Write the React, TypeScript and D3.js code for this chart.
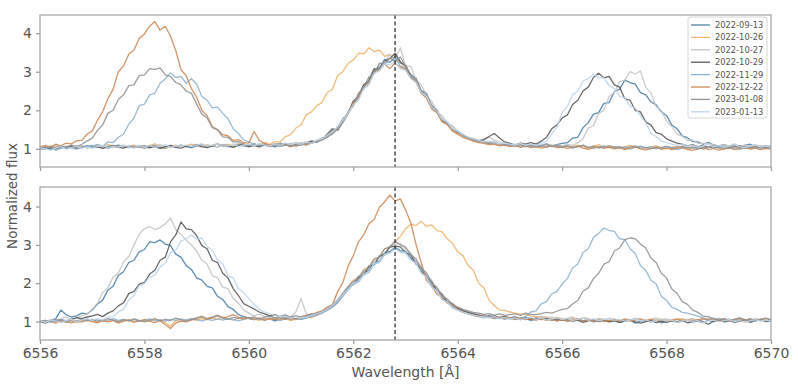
import React, { useRef, useEffect } from 'react';
import * as d3 from 'd3';

// spectra sampled on a 0.1 Å grid from 6556 to 6570 (141 points)
const waveStart = 6556;
const waveStep = 0.1;
const restWave = 6562.8;

const dates = ['2022-09-13', '2022-10-26', '2022-10-27', '2022-10-29', '2022-11-29', '2022-12-22', '2023-01-08', '2023-01-13'];
const colors = ['#4a82a8', '#f0b46c', '#c4c4c4', '#5a5a5a', '#8db4d2', '#cf8a58', '#949494', '#bfd5ea'];

const xTicks = [6556, 6558, 6560, 6562, 6564, 6566, 6568, 6570];
const yTicks = [1, 2, 3, 4];

// upper panel
const up0913 = [
  1.02, 1.05, 0.99, 1.03, 1.07, 1.01, 1.04, 1.08, 1.03, 1.06,
  1.09, 1.04, 1.07, 1.02, 1.05, 1.10, 1.06, 1.03, 1.08, 1.05,
  1.02, 1.06, 1.09, 1.04, 1.01, 1.07, 1.05, 1.10, 1.06, 1.03,
  1.08, 1.12, 1.06, 1.09, 1.13, 1.07, 1.10, 1.05, 1.11, 1.08,
  1.06, 1.10, 1.07, 1.12, 1.08, 1.05, 1.11, 1.14, 1.09, 1.12,
  1.15, 1.10, 1.20, 1.17, 1.28, 1.30, 1.47, 1.55, 1.78, 1.92,
  2.22, 2.38, 2.66, 2.80, 3.08, 3.05, 3.32, 3.24, 3.40, 3.22,
  3.18, 2.90, 2.84, 2.50, 2.42, 2.08, 2.02, 1.72, 1.68, 1.49,
  1.46, 1.35, 1.30, 1.24, 1.18, 1.20, 1.14, 1.16, 1.12, 1.09,
  1.11, 1.08, 1.12, 1.07, 1.10, 1.06, 1.09, 1.13, 1.08, 1.11,
  1.14, 1.16, 1.28, 1.30, 1.55, 1.68, 1.90, 1.94, 2.18, 2.20,
  2.48, 2.55, 2.78, 2.72, 2.68, 2.46, 2.40, 2.22, 2.14, 1.96,
  1.86, 1.62, 1.52, 1.34, 1.29, 1.19, 1.18, 1.12, 1.17, 1.10,
  1.08, 1.11, 1.06, 1.10, 1.05, 1.09, 1.12, 1.06, 1.04, 1.08,
  1.05,
];
const up1026 = [
  1.06, 1.03, 1.08, 1.05, 1.01, 1.06, 1.09, 1.04, 1.07, 1.02,
  1.05, 1.09, 1.04, 1.12, 1.07, 1.03, 1.08, 1.05, 1.10, 1.06,
  1.04, 1.09, 1.13, 1.07, 1.02, 1.06, 1.10, 1.05, 1.08, 1.12,
  1.09, 1.05, 1.11, 1.07, 1.13, 1.08, 1.12, 1.06, 1.10, 1.14,
  1.08, 1.13, 1.09, 1.17, 1.12, 1.19, 1.18, 1.32, 1.37, 1.54,
  1.62, 1.88, 1.96, 2.12, 2.20, 2.46, 2.54, 2.90, 3.00, 3.22,
  3.30, 3.48, 3.46, 3.62, 3.52, 3.56, 3.40, 3.45, 3.28, 3.26,
  3.08, 2.84, 2.74, 2.46, 2.34, 2.06, 1.95, 1.74, 1.65, 1.48,
  1.42, 1.34, 1.27, 1.22, 1.18, 1.15, 1.17, 1.12, 1.10, 1.13,
  1.09, 1.07, 1.11, 1.06, 1.09, 1.05, 1.08, 1.04, 1.10, 1.06,
  1.03, 1.08, 1.05, 1.10, 1.06, 1.02, 1.07, 1.11, 1.04, 1.08,
  1.05, 1.01, 1.06, 1.09, 1.03, 1.07, 1.02, 1.05, 1.08, 1.03,
  1.00, 1.04, 1.07, 1.02, 0.98, 1.03, 1.06, 1.01, 1.04, 1.07,
  1.03, 0.99, 1.05, 1.02, 1.06, 1.01, 1.04, 1.08, 1.03, 1.06,
  1.04,
];
const up1027 = [
  1.08, 1.03, 1.06, 1.10, 1.04, 1.07, 1.02, 1.05, 1.09, 1.04,
  1.07, 1.11, 1.05, 1.08, 1.03, 1.06, 1.10, 1.04, 1.07, 1.09,
  1.05, 1.02, 1.08, 1.11, 1.06, 1.03, 1.07, 1.10, 1.05, 1.08,
  1.12, 1.07, 1.04, 1.09, 1.13, 1.08, 1.05, 1.10, 1.14, 1.09,
  1.11, 1.07, 1.13, 1.09, 1.06, 1.12, 1.15, 1.10, 1.13, 1.17,
  1.14, 1.19, 1.16, 1.22, 1.28, 1.32, 1.45, 1.55, 1.76, 1.96,
  2.10, 2.44, 2.52, 2.86, 2.98, 3.18, 3.26, 3.45, 3.30, 3.62,
  3.15, 3.14, 2.80, 2.66, 2.38, 2.24, 1.96, 1.86, 1.66, 1.60,
  1.45, 1.38, 1.30, 1.27, 1.22, 1.25, 1.30, 1.22, 1.18, 1.15,
  1.13, 1.09, 1.12, 1.08, 1.11, 1.14, 1.09, 1.12, 1.07, 1.10,
  1.08, 1.12, 1.09, 1.16, 1.26, 1.54, 1.60, 1.92, 2.00, 2.36,
  2.46, 2.74, 2.78, 3.00, 2.94, 3.02, 2.60, 2.45, 2.10, 1.99,
  1.72, 1.58, 1.38, 1.33, 1.22, 1.23, 1.14, 1.15, 1.13, 1.11,
  1.07, 1.11, 1.08, 1.13, 1.06, 1.10, 1.07, 1.11, 1.05, 1.09,
  1.07,
];
const up1029 = [
  1.00, 1.04, 1.02, 0.98, 1.05, 1.03, 1.07, 1.01, 1.04, 1.08,
  1.03, 1.06, 1.01, 1.05, 1.09, 1.04, 1.02, 1.07, 1.03, 1.06,
  1.08, 1.03, 1.05, 1.01, 1.06, 1.09, 1.04, 1.02, 1.07, 1.05,
  1.10, 1.06, 1.03, 1.08, 1.05, 1.11, 1.07, 1.04, 1.09, 1.12,
  1.06, 1.09, 1.05, 1.10, 1.07, 1.13, 1.08, 1.11, 1.06, 1.12,
  1.10, 1.15, 1.20, 1.18, 1.24, 1.38, 1.52, 1.48, 1.70, 1.92,
  2.24, 2.34, 2.66, 2.74, 3.05, 3.10, 3.28, 3.34, 3.48, 3.26,
  3.15, 2.86, 2.78, 2.48, 2.34, 2.10, 1.96, 1.76, 1.65, 1.52,
  1.42, 1.36, 1.28, 1.25, 1.20, 1.24, 1.32, 1.40, 1.28, 1.18,
  1.14, 1.10, 1.15, 1.12, 1.16, 1.12, 1.20, 1.30, 1.52, 1.62,
  1.80, 1.88, 2.15, 2.26, 2.50, 2.60, 2.85, 2.96, 2.84, 2.88,
  2.66, 2.60, 2.30, 2.26, 2.00, 1.96, 1.70, 1.62, 1.42, 1.38,
  1.26, 1.20, 1.15, 1.12, 1.08, 1.11, 1.06, 1.09, 1.04, 1.07,
  1.03, 1.06, 1.01, 1.05, 1.08, 1.02, 1.06, 1.03, 1.07, 1.04,
  1.06,
];
const up1129 = [
  0.98, 1.02, 1.05, 0.97, 1.01, 1.06, 1.03, 0.99, 1.04, 1.08,
  1.05, 1.12, 1.07, 1.18, 1.16, 1.30, 1.38, 1.64, 1.80, 2.12,
  2.16, 2.40, 2.44, 2.70, 2.82, 2.97, 2.85, 2.88, 2.70, 2.82,
  2.68, 2.36, 2.26, 2.06, 2.08, 1.92, 1.78, 1.52, 1.40, 1.23,
  1.18, 1.12, 1.09, 1.13, 1.08, 1.11, 1.06, 1.10, 1.13, 1.08,
  1.12, 1.10, 1.15, 1.19, 1.22, 1.30, 1.38, 1.52, 1.68, 1.90,
  2.16, 2.30, 2.60, 2.68, 3.00, 3.06, 3.26, 3.24, 3.35, 3.15,
  3.08, 2.86, 2.76, 2.48, 2.36, 2.14, 2.00, 1.76, 1.70, 1.52,
  1.44, 1.36, 1.29, 1.22, 1.20, 1.16, 1.14, 1.18, 1.12, 1.10,
  1.08, 1.12, 1.06, 1.09, 1.05, 1.10, 1.07, 1.04, 1.09, 1.06,
  1.03, 1.07, 1.02, 1.06, 1.09, 1.04, 1.01, 1.05, 1.08, 1.03,
  1.06, 1.02, 1.05, 0.99, 1.04, 1.07, 1.02, 1.06, 1.00, 1.04,
  1.07, 1.03, 0.98, 1.02, 1.05, 1.01, 1.04, 0.99, 1.03, 1.06,
  1.02, 1.05, 1.01, 1.04, 0.98, 1.03, 1.07, 1.02, 1.05, 1.01,
  1.03,
];
const up1222 = [
  1.05, 1.09, 1.04, 1.12, 1.08, 1.15, 1.13, 1.21, 1.22, 1.38,
  1.46, 1.74, 1.96, 2.30, 2.55, 3.00, 3.15, 3.45, 3.56, 3.86,
  3.98, 4.18, 4.30, 4.08, 4.18, 3.92, 3.55, 3.05, 2.90, 2.56,
  2.34, 2.00, 1.86, 1.58, 1.50, 1.37, 1.34, 1.22, 1.24, 1.16,
  1.15, 1.45, 1.22, 1.14, 1.10, 1.12, 1.08, 1.11, 1.07, 1.10,
  1.13, 1.11, 1.16, 1.20, 1.24, 1.32, 1.40, 1.55, 1.70, 1.92,
  2.20, 2.34, 2.62, 2.72, 3.00, 3.04, 3.20, 3.08, 3.22, 3.12,
  3.06, 2.84, 2.74, 2.44, 2.32, 2.04, 1.94, 1.70, 1.63, 1.46,
  1.38, 1.30, 1.25, 1.20, 1.16, 1.14, 1.11, 1.12, 1.08, 1.10,
  1.06, 1.09, 1.04, 1.07, 1.03, 1.06, 1.02, 1.05, 1.08, 1.03,
  1.05, 1.01, 1.04, 1.07, 1.02, 0.99, 1.03, 1.06, 1.01, 1.04,
  1.00, 1.03, 0.98, 1.02, 1.05, 1.00, 0.97, 1.01, 1.04, 0.99,
  1.02, 0.98, 1.01, 1.04, 0.99, 0.96, 1.00, 1.03, 0.98, 1.01,
  0.97, 1.00, 1.03, 0.98, 1.01, 1.04, 0.99, 1.02, 0.98, 1.01,
  1.00,
];
const up0108 = [
  1.03, 0.99, 1.06, 1.02, 1.08, 1.04, 1.10, 1.06, 1.12, 1.20,
  1.28, 1.48, 1.62, 1.92, 2.00, 2.28, 2.40, 2.64, 2.66, 2.90,
  2.92, 3.08, 3.06, 3.10, 2.92, 2.88, 2.72, 2.66, 2.50, 2.44,
  2.16, 1.90, 1.80, 1.55, 1.49, 1.31, 1.30, 1.18, 1.19, 1.10,
  1.09, 1.13, 1.08, 1.11, 1.06, 1.10, 1.14, 1.09, 1.12, 1.07,
  1.11, 1.16, 1.14, 1.20, 1.26, 1.30, 1.42, 1.56, 1.72, 1.94,
  2.12, 2.44, 2.58, 2.86, 2.94, 3.22, 3.20, 3.36, 3.25, 3.38,
  3.14, 2.94, 2.80, 2.52, 2.44, 2.12, 1.99, 1.75, 1.68, 1.50,
  1.45, 1.34, 1.28, 1.24, 1.21, 1.18, 1.14, 1.16, 1.11, 1.13,
  1.10, 1.07, 1.11, 1.06, 1.09, 1.05, 1.08, 1.11, 1.06, 1.09,
  1.05, 1.08, 1.03, 1.06, 1.10, 1.04, 1.07, 1.02, 1.05, 1.08,
  1.03, 1.06, 1.01, 1.05, 1.08, 1.02, 1.04, 1.00, 1.05, 1.02,
  1.06, 1.01, 1.04, 1.07, 1.02, 1.05, 1.00, 1.03, 1.06, 1.02,
  1.05, 1.01, 1.04, 1.08, 1.03, 1.06, 1.02, 1.05, 1.01, 1.04,
  1.02,
];
const up0113 = [
  1.04, 1.00, 0.96, 1.02, 1.06, 0.99, 1.03, 1.07, 1.01, 1.05,
  1.02, 1.06, 1.09, 1.03, 1.07, 1.04, 1.10, 1.06, 1.02, 1.08,
  1.05, 1.09, 1.03, 1.07, 1.11, 1.04, 1.08, 1.05, 1.10, 1.06,
  1.09, 1.13, 1.07, 1.10, 1.05, 1.11, 1.08, 1.13, 1.06, 1.10,
  1.12, 1.08, 1.14, 1.10, 1.07, 1.13, 1.09, 1.15, 1.11, 1.14,
  1.12, 1.17, 1.15, 1.22, 1.26, 1.35, 1.44, 1.58, 1.74, 1.92,
  2.14, 2.26, 2.56, 2.66, 2.96, 3.02, 3.20, 3.18, 3.24, 3.08,
  3.04, 2.82, 2.72, 2.46, 2.36, 2.08, 1.98, 1.77, 1.69, 1.52,
  1.46, 1.37, 1.30, 1.26, 1.22, 1.18, 1.21, 1.16, 1.13, 1.15,
  1.12, 1.10, 1.14, 1.10, 1.13, 1.09, 1.14, 1.20, 1.38, 1.56,
  1.94, 2.10, 2.40, 2.50, 2.76, 2.82, 2.93, 2.84, 2.84, 2.64,
  2.56, 2.36, 2.32, 2.10, 2.06, 1.86, 1.68, 1.40, 1.32, 1.20,
  1.16, 1.12, 1.09, 1.13, 1.07, 1.10, 1.05, 1.08, 1.12, 1.06,
  1.09, 1.04, 1.08, 1.11, 1.06, 1.03, 1.07, 1.10, 1.05, 1.08,
  1.04,
];

// lower panel
const lo0913 = [
  1.00, 0.96, 1.03, 1.07, 1.30, 1.18, 1.12, 1.15, 1.22, 1.20,
  1.30, 1.46, 1.56, 1.82, 1.92, 2.20, 2.30, 2.54, 2.60, 2.82,
  2.88, 3.08, 3.06, 3.13, 3.02, 2.98, 2.76, 2.68, 2.46, 2.36,
  2.14, 2.08, 1.92, 1.88, 1.66, 1.58, 1.39, 1.32, 1.18, 1.13,
  1.08, 1.05, 1.09, 1.04, 1.07, 1.02, 1.06, 1.10, 1.04, 1.08,
  1.06, 1.10, 1.14, 1.18, 1.24, 1.32, 1.40, 1.52, 1.70, 1.86,
  2.03, 2.07, 2.26, 2.34, 2.54, 2.58, 2.79, 2.83, 2.94, 2.85,
  2.83, 2.66, 2.56, 2.31, 2.20, 1.94, 1.84, 1.61, 1.53, 1.38,
  1.32, 1.26, 1.22, 1.18, 1.15, 1.12, 1.16, 1.10, 1.08, 1.11,
  1.07, 1.10, 1.05, 1.08, 1.03, 1.06, 1.09, 1.04, 1.07, 1.02,
  1.05, 1.01, 1.04, 1.07, 1.02, 1.05, 0.99, 1.03, 1.06, 1.01,
  1.04, 0.98, 1.02, 1.05, 0.96, 1.01, 1.03, 0.99, 1.04, 0.97,
  1.00, 1.03, 0.98, 1.02, 1.05, 0.99, 1.01, 0.97, 1.03, 1.00,
  1.04, 0.99, 1.02, 1.06, 1.01, 1.04, 0.98, 1.03, 1.05, 1.00,
  1.02,
];
const lo1026 = [
  0.98, 1.02, 1.00, 1.04, 0.99, 1.03, 1.01, 0.97, 1.02, 1.05,
  1.01, 0.98, 1.03, 1.00, 1.04, 0.99, 1.02, 1.05, 1.00, 1.03,
  0.99, 1.02, 1.06, 1.01, 0.97, 0.88, 1.03, 1.00, 1.04, 1.07,
  1.03, 1.08, 1.05, 1.10, 1.06, 1.12, 1.08, 1.04, 1.09, 1.06,
  1.10, 1.07, 1.03, 1.08, 1.05, 1.09, 1.04, 1.07, 1.03, 1.06,
  1.08, 1.12, 1.10, 1.16, 1.22, 1.30, 1.42, 1.56, 1.74, 1.92,
  2.08, 2.15, 2.36, 2.42, 2.64, 2.68, 2.90, 2.92, 3.08, 3.22,
  3.42, 3.54, 3.50, 3.62, 3.48, 3.52, 3.38, 3.34, 3.16, 3.04,
  2.82, 2.72, 2.46, 2.34, 2.00, 1.88, 1.56, 1.42, 1.30, 1.29,
  1.25, 1.22, 1.20, 1.18, 1.15, 1.13, 1.10, 1.12, 1.08, 1.11,
  1.08, 1.05, 1.09, 1.06, 1.10, 1.07, 1.04, 1.08, 1.05, 1.02,
  1.06, 1.03, 1.07, 1.04, 1.08, 1.05, 1.02, 1.06, 1.03, 1.07,
  1.04, 1.01, 1.05, 1.08, 1.03, 1.06, 1.02, 1.05, 1.08, 1.04,
  1.01, 1.05, 1.02, 1.06, 1.03, 0.99, 1.04, 1.07, 1.02, 1.05,
  1.03,
];
const lo1027 = [
  1.03, 0.99, 1.05, 1.02, 1.08, 1.12, 1.06, 1.10, 1.15, 1.20,
  1.32, 1.48, 1.76, 1.88, 2.16, 2.26, 2.55, 2.70, 3.00, 3.28,
  3.42, 3.48, 3.40, 3.45, 3.55, 3.70, 3.40, 3.28, 3.12, 3.00,
  2.84, 2.60, 2.50, 2.20, 2.14, 1.90, 1.86, 1.60, 1.48, 1.30,
  1.22, 1.15, 1.20, 1.12, 1.16, 1.10, 1.14, 1.18, 1.12, 1.25,
  1.60, 1.20, 1.16, 1.22, 1.28, 1.34, 1.45, 1.58, 1.74, 1.92,
  2.02, 2.19, 2.25, 2.46, 2.52, 2.72, 2.78, 2.98, 3.02, 3.04,
  2.88, 2.80, 2.56, 2.46, 2.21, 2.09, 1.84, 1.73, 1.53, 1.47,
  1.36, 1.30, 1.25, 1.22, 1.18, 1.16, 1.13, 1.15, 1.11, 1.14,
  1.10, 1.13, 1.08, 1.11, 1.07, 1.10, 1.14, 1.09, 1.12, 1.08,
  1.05, 1.09, 1.12, 1.06, 1.10, 1.07, 1.03, 1.08, 1.05, 1.09,
  1.06, 1.02, 1.07, 1.04, 1.09, 1.05, 1.02, 1.06, 1.10, 1.04,
  1.07, 1.03, 1.06, 1.02, 1.05, 1.08, 1.04, 1.07, 1.03, 1.06,
  1.09, 1.04, 1.07, 1.03, 1.10, 1.06, 1.02, 1.08, 1.05, 1.09,
  1.06,
];
const lo1029 = [
  1.01, 0.97, 1.03, 1.00, 1.05, 1.02, 1.06, 1.10, 1.08, 1.12,
  1.15, 1.19, 1.13, 1.22, 1.28, 1.41, 1.49, 1.73, 1.79, 1.98,
  2.02, 2.24, 2.34, 2.60, 2.68, 3.08, 3.26, 3.60, 3.42, 3.40,
  3.24, 2.98, 2.90, 2.60, 2.54, 2.26, 2.14, 1.86, 1.68, 1.47,
  1.40, 1.33, 1.25, 1.20, 1.15, 1.18, 1.12, 1.16, 1.10, 1.14,
  1.12, 1.15, 1.20, 1.18, 1.25, 1.30, 1.38, 1.50, 1.68, 1.88,
  1.97, 2.16, 2.22, 2.44, 2.48, 2.70, 2.76, 2.94, 2.97, 2.95,
  2.80, 2.74, 2.50, 2.40, 2.16, 2.04, 1.80, 1.71, 1.51, 1.46,
  1.35, 1.28, 1.24, 1.20, 1.17, 1.14, 1.12, 1.15, 1.10, 1.13,
  1.09, 1.12, 1.07, 1.10, 1.06, 1.09, 1.05, 1.08, 1.04, 1.07,
  1.03, 1.06, 1.01, 1.04, 0.98, 1.02, 1.05, 1.00, 1.03, 0.99,
  1.02, 0.98, 1.01, 1.04, 0.99, 0.96, 1.00, 1.03, 0.97, 1.01,
  0.98, 1.02, 0.99, 1.03, 0.97, 1.00, 1.04, 0.99, 0.93, 1.01,
  1.04, 1.00, 1.03, 0.98, 1.02, 1.05, 1.00, 1.03, 1.06, 1.01,
  1.04,
];
const lo1129 = [
  1.00, 1.03, 0.98, 1.02, 1.05, 1.01, 1.04, 0.99, 1.03, 1.06,
  1.02, 1.05, 1.01, 1.04, 1.08, 1.03, 1.06, 1.02, 1.05, 1.01,
  1.04, 1.07, 1.02, 1.05, 1.01, 1.06, 1.03, 1.07, 1.04, 1.08,
  1.05, 1.02, 1.06, 1.03, 1.07, 1.04, 1.08, 1.05, 1.02, 1.06,
  1.09, 1.05, 1.08, 1.04, 1.10, 1.06, 1.03, 1.07, 1.11, 1.05,
  1.08, 1.10, 1.13, 1.17, 1.22, 1.30, 1.38, 1.50, 1.66, 1.82,
  1.98, 2.03, 2.22, 2.28, 2.49, 2.55, 2.74, 2.79, 2.92, 2.83,
  2.81, 2.62, 2.54, 2.28, 2.18, 1.91, 1.82, 1.59, 1.51, 1.36,
  1.30, 1.24, 1.20, 1.16, 1.13, 1.10, 1.12, 1.08, 1.10, 1.06,
  1.09, 1.05, 1.10, 1.13, 1.25, 1.28, 1.46, 1.52, 1.72, 1.79,
  1.98, 2.12, 2.40, 2.50, 2.80, 2.90, 3.20, 3.30, 3.44, 3.38,
  3.35, 3.16, 3.14, 2.90, 2.78, 2.46, 2.34, 2.08, 1.98, 1.66,
  1.55, 1.37, 1.32, 1.24, 1.22, 1.18, 1.14, 1.10, 1.06, 1.09,
  1.04, 1.07, 1.02, 1.05, 1.08, 1.03, 1.06, 1.01, 1.05, 1.03,
  1.05,
];
const lo1222 = [
  1.02, 0.98, 1.01, 0.96, 1.03, 1.00, 0.97, 1.02, 0.99, 1.04,
  1.00, 0.97, 1.02, 0.99, 1.03, 0.96, 1.01, 1.04, 0.98, 1.02,
  1.05, 1.01, 0.97, 1.03, 0.92, 0.82, 0.96, 1.02, 0.99, 1.04,
  1.08, 1.12, 1.06, 1.10, 1.15, 1.09, 1.13, 1.18, 1.11, 1.07,
  1.10, 1.06, 1.09, 1.04, 1.08, 1.05, 1.09, 1.06, 1.10, 1.07,
  1.12, 1.16, 1.17, 1.24, 1.27, 1.38, 1.44, 1.78, 2.02, 2.44,
  2.72, 3.08, 3.26, 3.55, 3.66, 3.98, 4.12, 4.30, 4.14, 4.20,
  3.92, 3.58, 3.02, 2.54, 2.08, 1.93, 1.72, 1.63, 1.48, 1.42,
  1.32, 1.25, 1.20, 1.16, 1.13, 1.15, 1.11, 1.09, 1.12, 1.08,
  1.10, 1.06, 1.09, 1.05, 1.08, 1.04, 1.07, 1.03, 1.06, 1.02,
  1.05, 1.01, 1.04, 1.07, 1.02, 1.05, 1.01, 1.04, 1.00, 1.03,
  1.06, 1.02, 1.05, 1.01, 1.04, 1.07, 1.03, 1.06, 1.02, 1.05,
  1.01, 1.04, 1.07, 1.03, 1.06, 1.02, 1.05, 1.08, 1.04, 1.07,
  1.03, 1.06, 1.02, 1.05, 1.08, 1.04, 1.07, 1.03, 1.06, 1.02,
  1.05,
];
const lo0108 = [
  0.99, 1.03, 1.00, 1.05, 1.02, 0.98, 1.04, 1.01, 1.06, 1.02,
  1.05, 1.01, 1.04, 1.08, 1.03, 1.00, 1.05, 1.02, 1.07, 1.03,
  1.00, 1.04, 1.08, 1.02, 1.06, 1.03, 1.09, 1.05, 1.01, 1.06,
  1.10, 1.14, 1.08, 1.12, 1.17, 1.10, 1.06, 1.11, 1.08, 1.13,
  1.09, 1.12, 1.07, 1.11, 1.14, 1.09, 1.13, 1.08, 1.12, 1.15,
  1.10, 1.14, 1.18, 1.21, 1.26, 1.33, 1.44, 1.56, 1.72, 1.90,
  2.05, 2.11, 2.32, 2.40, 2.62, 2.68, 2.90, 2.95, 3.10, 3.00,
  2.95, 2.74, 2.64, 2.38, 2.28, 2.00, 1.90, 1.67, 1.59, 1.44,
  1.38, 1.32, 1.28, 1.24, 1.22, 1.19, 1.21, 1.17, 1.20, 1.16,
  1.18, 1.20, 1.16, 1.22, 1.19, 1.18, 1.21, 1.24, 1.22, 1.27,
  1.32, 1.34, 1.46, 1.55, 1.79, 1.88, 2.12, 2.26, 2.50, 2.56,
  2.84, 2.92, 3.14, 3.18, 3.16, 3.02, 2.92, 2.66, 2.54, 2.26,
  2.14, 1.85, 1.74, 1.52, 1.45, 1.30, 1.24, 1.14, 1.13, 1.07,
  1.05, 1.08, 1.03, 1.06, 1.10, 1.04, 1.07, 1.02, 1.06, 1.09,
  1.05,
];
const lo0113 = [
  1.02, 0.98, 1.04, 1.01, 0.97, 1.03, 1.06, 1.00, 1.04, 1.08,
  1.03, 1.08, 1.04, 1.12, 1.13, 1.25, 1.32, 1.56, 1.68, 1.94,
  1.99, 2.16, 2.21, 2.42, 2.52, 2.80, 2.86, 3.10, 3.16, 3.26,
  3.15, 3.18, 2.96, 2.86, 2.60, 2.50, 2.20, 2.14, 1.86, 1.75,
  1.60, 1.45, 1.32, 1.25, 1.20, 1.16, 1.12, 1.15, 1.09, 1.13,
  1.10, 1.12, 1.16, 1.20, 1.25, 1.32, 1.42, 1.55, 1.70, 1.85,
  2.01, 2.05, 2.24, 2.30, 2.52, 2.56, 2.76, 2.78, 2.90, 2.81,
  2.79, 2.60, 2.52, 2.26, 2.16, 1.90, 1.80, 1.57, 1.51, 1.36,
  1.30, 1.25, 1.20, 1.17, 1.14, 1.12, 1.10, 1.13, 1.08, 1.11,
  1.07, 1.10, 1.05, 1.08, 1.12, 1.06, 1.09, 1.04, 1.07, 1.10,
  1.05, 1.08, 1.03, 1.06, 1.09, 1.04, 1.07, 1.02, 1.05, 1.08,
  1.03, 1.06, 1.01, 1.04, 1.07, 1.02, 1.05, 0.99, 1.03, 1.06,
  1.01, 1.04, 0.98, 1.02, 1.05, 1.00, 1.03, 0.97, 1.01, 1.04,
  0.99, 1.02, 1.05, 1.00, 1.03, 0.98, 1.02, 1.05, 1.01, 1.04,
  1.02,
];

const upper = [up0913, up1026, up1027, up1029, up1129, up1222, up0108, up0113];
const lower = [lo0913, lo1026, lo1027, lo1029, lo1129, lo1222, lo0108, lo0113];

const App = () => {
  const svgRef = useRef<SVGSVGElement>(null);

  useEffect(() => {
    document.body.style.margin = '0';
    const svg = d3.select(svgRef.current);
    svg.selectAll('*').remove();

    const w = 798;
    const h = 389;
    const left = 40;
    const right = 771;
    const font = 'DejaVu Sans, sans-serif';
    svg.attr('width', w).attr('height', h).style('display', 'block').style('font-family', font);

    const x = d3.scaleLinear().domain([6556, 6570]).range([left, right]);

    const panels = [
      { top: 15, bottom: 167, domain: [0.53, 4.47], data: upper, labels: false },
      { top: 187, bottom: 340, domain: [0.52, 4.51], data: lower, labels: true },
    ];

    panels.forEach((p, k) => {
      const y = d3.scaleLinear().domain(p.domain).range([p.bottom, p.top]);

      svg.append('clipPath').attr('id', `clip${k}`)
        .append('rect')
        .attr('x', left).attr('y', p.top)
        .attr('width', right - left).attr('height', p.bottom - p.top);

      const line = d3.line<number>()
        .x((d, i) => x(waveStart + i * waveStep))
        .y(d => y(d));

      const g = svg.append('g').attr('clip-path', `url(#clip${k})`);
      g.selectAll('path')
        .data(p.data)
        .join('path')
        .attr('d', d => line(d))
        .attr('fill', 'none')
        .attr('stroke', (d, i) => colors[i])
        .attr('stroke-opacity', 0.9)
        .attr('stroke-width', 1.3)
        .attr('stroke-linejoin', 'round');

      // rest wavelength of H-alpha
      g.append('line')
        .attr('x1', x(restWave)).attr('x2', x(restWave))
        .attr('y1', p.top).attr('y2', p.bottom)
        .attr('stroke', '#333')
        .attr('stroke-width', 1.3)
        .attr('stroke-dasharray', '4,2.5');

      const yAxis = svg.append('g')
        .attr('transform', `translate(${left},0)`)
        .call(d3.axisLeft(y).tickValues(yTicks).tickSize(4).tickPadding(4).tickFormat(d3.format('d')));
      const xAxis = svg.append('g')
        .attr('transform', `translate(0,${p.bottom})`)
        .call(d3.axisBottom(x).tickValues(xTicks).tickSize(4).tickPadding(4)
          .tickFormat(p.labels ? d3.format('d') : () => ''));

      [yAxis, xAxis].forEach(a => {
        a.select('.domain').remove();
        a.selectAll('line').attr('stroke', '#999').attr('stroke-width', 1.2);
        a.selectAll('text').attr('fill', '#555').style('font-size', '14px').style('font-family', font);
      });

      svg.append('rect')
        .attr('x', left).attr('y', p.top)
        .attr('width', right - left).attr('height', p.bottom - p.top)
        .attr('fill', 'none')
        .attr('stroke', '#a8a8a8')
        .attr('stroke-width', 1.3);
    });

    // legend
    const lg = svg.append('g').attr('transform', 'translate(688,17)');
    lg.append('rect')
      .attr('width', 79).attr('height', 101)
      .attr('rx', 2)
      .attr('fill', 'white')
      .attr('fill-opacity', 0.85)
      .attr('stroke', '#d8d8d8');
    const item = lg.selectAll('g.item')
      .data(dates)
      .join('g')
      .attr('class', 'item')
      .attr('transform', (d, i) => `translate(0,${8 + i * 12.4})`);
    item.append('line')
      .attr('x1', 3).attr('x2', 22)
      .attr('stroke', (d, i) => colors[i])
      .attr('stroke-width', 1.3);
    item.append('text')
      .attr('x', 27)
      .attr('dy', '0.35em')
      .attr('fill', '#555')
      .style('font-size', '8.3px')
      .text(d => d);

    svg.append('text')
      .attr('x', (left + right) / 2)
      .attr('y', 377)
      .attr('text-anchor', 'middle')
      .attr('fill', '#555')
      .style('font-size', '14px')
      .text('Wavelength [Å]');

    svg.append('text')
      .attr('transform', 'translate(16.5,196) rotate(-90)')
      .attr('text-anchor', 'middle')
      .attr('fill', '#555')
      .style('font-size', '13.5px')
      .text('Normalized flux');
  }, []);

  return <svg ref={svgRef}></svg>;
};

export default App;
